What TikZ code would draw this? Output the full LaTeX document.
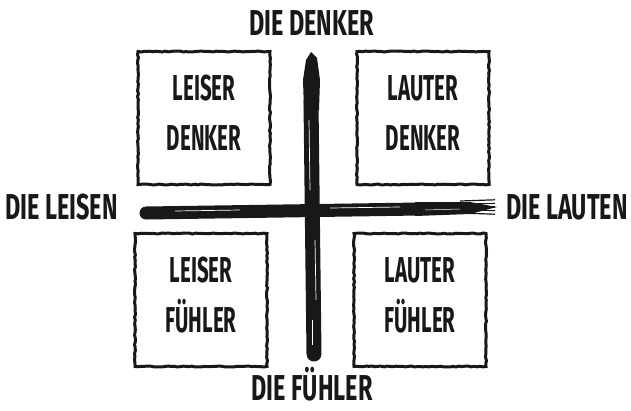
\documentclass[tikz,border=0pt]{standalone}
\usepackage{fontspec}
\newfontfamily\labelfont[FakeStretch=0.57]{Fira Sans}
\newfontfamily\axisfont[FakeStretch=0.65]{Fira Sans}
\usetikzlibrary{positioning, calc, decorations.pathmorphing}
\definecolor{ink}{RGB}{24,24,24}

\begin{document}
\begin{tikzpicture}[x=1pt, y=-1pt,
  quad/.style={draw=ink, line width=3pt, minimum width=132pt, minimum height=133pt,
    inner sep=0pt,
    decorate, decoration={random steps, segment length=3pt, amplitude=0.5pt}},
  quadtext/.style={anchor=base, inner sep=0pt, text=ink,
    font=\labelfont\bfseries\fontsize{36}{40}\selectfont},
  axislabel/.style={anchor=base, inner sep=0pt, text=ink, text depth=0pt,
    font=\axisfont\bfseries\fontsize{36}{40}\selectfont},
  brush/.style={draw=ink, line cap=round},
  streak/.style={draw=white, line width=0.7pt}]
\useasboundingbox (0,0) rectangle (631,410);

% the four quadrants
\foreach \n/\x/\y/\a/\b in {ld/204/118/LEISER/DENKER, lad/423/118/LAUTER/DENKER,
                           lf/201/300/LEISER/FÜHLER, laf/420/300/LAUTER/FÜHLER} {
  \node[quad] (\n) at (\x,\y) {};
  \node[quadtext] (\n-a) at ($(\n.center)+(0,-18)$) {\a};
  \node[quadtext] (\n-b) at ($(\n.center)+(0,32)$) {\b};
}

% axis labels
\node[axislabel] (denker) at (311.5,35) {DIE DENKER};
\node[axislabel] (fuehler) at (312,400) {DIE FÜHLER};
\node[axislabel] (leisen) at (61.5,219) {DIE LEISEN};
\node[axislabel] (lauten) at (567,219) {DIE LAUTEN};

% brush strokes
\coordinate (vtop) at (311,52);
\coordinate (vbot) at (314,354);
\coordinate (hl) at (146,213);
\coordinate (hr) at (497,207);

\fill[ink] (vtop) -- (317,58) -- (320,80) -- (319,110) -- (304,110) -- (303,80) -- (306,60) -- cycle;
\draw[brush, line width=15pt] ($(vtop)+(0,50)$) -- (vbot);
\draw[streak] (309,120) -- (310,190);
\draw[streak] (315,240) -- (316,300);
\draw[streak, line width=0.4pt] (312,320) -- (312,345);

\draw[brush, line width=13pt] (hl) -- (420,209);
\fill[ink] (415,202) -- (470,202) -- (hr) -- (470,214) -- (415,216) -- cycle;
\foreach \dy/\w in {-6/1.2, -3/0.9, 0/1.4, 3/1, 6/1.2} {
  \draw[ink, line width=\w pt] (460,207+\dy) -- (495,207+\dy*1.2);
}
\draw[streak] (175,211) -- (240,210);
\draw[streak] (330,208) -- (400,207);
\draw[streak, line width=0.5pt] (425,210) -- (460,209);
\end{tikzpicture}
\end{document}
